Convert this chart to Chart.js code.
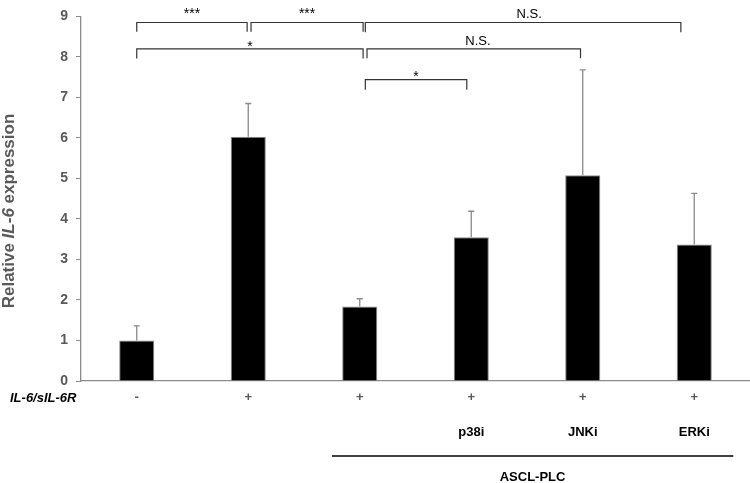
<!DOCTYPE html>
<html>
<head>
<meta charset="utf-8">
<script src="https://cdn.jsdelivr.net/npm/chart.js@4"></script>
<style>
    body { margin: 0; background: #fff; }
</style>
</head>
<body>
<canvas id="chart-il6" width="750" height="483"></canvas>
<script>
// Data
const treatment = ["-", "+", "+", "+", "+", "+"];
const inhibitors = ["", "", "", "p38i", "JNKi", "ERKi"];
const expression = [1.0, 6.03, 1.84, 3.55, 5.08, 3.37];
const errorUp = [0.36, 0.82, 0.19, 0.64, 2.60, 1.26];
const yTicks = [0, 1, 2, 3, 4, 5, 6, 7, 8, 9];

// Significance brackets: category index from/to, line and leg level, label baseline
const brackets = [
    { from: 0, to: 0.99, y: 8.85, leg: 8.62, label: "***", labelY: 8.95 },
    { from: 1.025, to: 2.03, y: 8.85, leg: 8.62, label: "***", labelY: 8.95 },
    { from: 2.05, to: 4.88, y: 8.85, leg: 8.61, label: "N.S.", labelY: 8.96, labelX: 3.52 },
    { from: 0, to: 2.03, y: 8.20, leg: 7.96, label: "*", labelY: 8.15 },
    { from: 2.065, to: 3.98, y: 8.20, leg: 7.97, label: "N.S.", labelY: 8.29, labelX: 3.06 },
    { from: 2.05, to: 2.96, y: 7.44, leg: 7.19, label: "*", labelY: 7.405 }
];
const groupLine = { from: 1.75, to: 5.35, label: "ASCL-PLC" };

const FONT = "'Liberation Sans', Arial, sans-serif";

const annotations = {
    id: "annotations",
    afterDatasetsDraw(chart) {
        const ctx = chart.ctx;
        const x = chart.scales.x;
        const y = chart.scales.y;
        ctx.save();

        // error bars (upper only)
        ctx.strokeStyle = "#8a8a8a";
        ctx.lineWidth = 1.3;
        expression.forEach((v, i) => {
            const px = x.getPixelForValue(i);
            const top = y.getPixelForValue(v + errorUp[i]);
            ctx.beginPath();
            ctx.moveTo(px, y.getPixelForValue(v));
            ctx.lineTo(px, top);
            ctx.moveTo(px - 3, top);
            ctx.lineTo(px + 3, top);
            ctx.stroke();
        });

        // brackets
        ctx.strokeStyle = "#333";
        ctx.lineWidth = 1.2;
        ctx.fillStyle = "#000";
        ctx.textAlign = "center";
        ctx.textBaseline = "alphabetic";
        brackets.forEach(b => {
            const x1 = x.getPixelForValue(b.from);
            const x2 = x.getPixelForValue(b.to);
            const py = y.getPixelForValue(b.y);
            const pl = y.getPixelForValue(b.leg);
            ctx.beginPath();
            ctx.moveTo(x1, pl);
            ctx.lineTo(x1, py);
            ctx.lineTo(x2, py);
            ctx.lineTo(x2, pl);
            ctx.stroke();
            const lx = b.labelX !== undefined ? x.getPixelForValue(b.labelX) : (x1 + x2) / 2;
            ctx.font = b.label === "N.S." ? "13px " + FONT : "14px " + FONT;
            ctx.fillText(b.label, lx, y.getPixelForValue(b.labelY));
        });

        // second row of x labels (inhibitors)
        ctx.font = "bold 13px " + FONT;
        ctx.textBaseline = "middle";
        ctx.fillStyle = "#000";
        inhibitors.forEach((t, i) => {
            if (t) ctx.fillText(t, x.getPixelForValue(i), 432);
        });

        // ASCL-PLC group line
        ctx.strokeStyle = "#000";
        ctx.lineWidth = 1.5;
        ctx.beginPath();
        ctx.moveTo(x.getPixelForValue(groupLine.from), 456);
        ctx.lineTo(x.getPixelForValue(groupLine.to), 456);
        ctx.stroke();
        ctx.fillText(groupLine.label, x.getPixelForValue((groupLine.from + groupLine.to) / 2), 477);

        // row caption
        ctx.textAlign = "left";
        ctx.font = "italic bold 13px " + FONT;
        ctx.fillText("IL-6/sIL-6R", 10, 398);

        // y axis title with italic gene name
        ctx.translate(9, 211);
        ctx.rotate(-Math.PI / 2);
        ctx.fillStyle = "#595959";
        const parts = [
            ["bold 17px " + FONT, "Relative "],
            ["italic bold 17px " + FONT, "IL-6"],
            ["bold 17px " + FONT, " expression"]
        ];
        let total = 0;
        parts.forEach(p => { ctx.font = p[0]; total += ctx.measureText(p[1]).width; });
        let cx = -total / 2;
        parts.forEach(p => {
            ctx.font = p[0];
            ctx.fillText(p[1], cx, 0);
            cx += ctx.measureText(p[1]).width;
        });

        ctx.restore();
    }
};

const ctxIl6 = document.getElementById("chart-il6");

const dataChartIl6 = {
    labels: treatment,
    datasets: [
        {
            label: "Relative IL-6 expression",
            data: expression,
            backgroundColor: "#000",
            borderColor: "#8c8c8c",
            borderWidth: 1,
            barPercentage: 0.315,
            categoryPercentage: 1,
        },
    ],
};

const configIl6 = {
    type: "bar",
    data: dataChartIl6,
    options: {
        responsive: false,
        animation: false,
        layout: { padding: { top: 10, right: 0, bottom: 0, left: 0 } },
        plugins: {
            legend: { display: false },
            tooltip: { enabled: false },
        },
        scales: {
            x: {
                grid: { drawOnChartArea: false, drawTicks: false },
                border: { display: true, color: "#8c8c8c", width: 1.3 },
                ticks: {
                    color: "#595959",
                    font: { family: FONT, size: 13, weight: "bold" },
                    padding: 9,
                    maxRotation: 0,
                },
                afterFit(scale) { scale.height = 102; },
            },
            y: {
                min: 0,
                max: 9,
                afterBuildTicks(scale) { scale.ticks = yTicks.map(v => ({ value: v })); },
                grid: { drawOnChartArea: false, drawTicks: true, tickLength: 5, color: "#8c8c8c" },
                border: { display: true, color: "#8c8c8c", width: 1.3 },
                ticks: {
                    color: "#595959",
                    font: { family: FONT, size: 14, weight: "bold" },
                    padding: 8,
                },
                afterFit(scale) { scale.width = 81; },
            },
        },
    },
    plugins: [annotations],
};

new Chart(ctxIl6, configIl6);
</script>
</body>
</html>
